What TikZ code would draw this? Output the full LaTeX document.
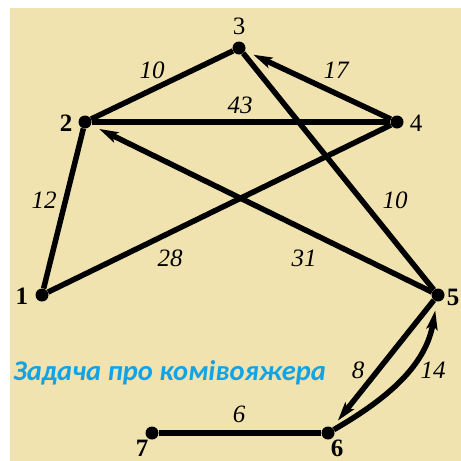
\documentclass[tikz,border=0pt]{standalone}
\usepackage{fontspec}
\setmainfont{Liberation Serif}
\newfontfamily\capfont{Carlito}
\usetikzlibrary{arrows.meta}
\definecolor{bg}{RGB}{240,227,176}
\definecolor{capblue}{RGB}{18,163,230}
\begin{document}
\begin{tikzpicture}[x=1pt,y=-1pt,
  dot/.style={circle,fill=black,inner sep=0pt,minimum size=13pt},
  edge/.style={line width=5.5pt},
  arr/.style={line width=5.5pt,-{Stealth[length=19pt,width=11pt,inset=4pt]},shorten >=9pt},
  wlab/.style={font=\fontsize{25}{25}\selectfont\itshape,inner sep=0pt},
  nlab/.style={font=\fontsize{25}{25}\selectfont,inner sep=0pt},
  blab/.style={font=\fontsize{25}{25}\selectfont\bfseries,inner sep=0pt}]
\useasboundingbox (0,0) rectangle (461,461);
\fill[bg] (10,8) rectangle (461,461);
\node[dot] (n1) at (42,295) {};
\node[dot] (n2) at (85,122) {};
\node[dot] (n3) at (239,48) {};
\node[dot] (n4) at (397,122) {};
\node[dot] (n5) at (438,295) {};
\node[dot] (n6) at (328,433) {};
\node[dot] (n7) at (152,433) {};
\node[nlab] (l3) at (239,26) {3};
\node[blab] (l2) at (66,123) {2};
\node[nlab] (l4) at (416,123) {4};
\node[blab] (l1) at (22,296) {1};
\node[blab] (l5) at (453,297) {5};
\node[blab] (l6) at (337,448) {6};
\node[blab] (l7) at (142,448) {7};
\draw[edge] (n2) -- (n3);
\draw[edge] (n2) -- (n4);
\draw[arr] (n4) -- (n3);
\draw[edge] (n2) -- (n1);
\draw[edge] (n1) -- (n4);
\draw[edge] (n3) -- (n5);
\draw[arr] (n5) -- (n2);
\draw[arr] (n5) -- (n6);
\draw[arr] (n6) to[out=30,in=-100] (n5);
\draw[edge] (n7) -- (n6);
\node[wlab] (w1) at (152,70) {10};
\node[wlab] (w2) at (240,105) {43};
\node[wlab] (w3) at (336,70) {17};
\node[wlab] (w4) at (44,200) {12};
\node[wlab] (w5) at (170,258) {28};
\node[wlab] (w6) at (304,258) {31};
\node[wlab] (w7) at (395,200) {10};
\node[wlab] (w8) at (358,370) {8};
\node[wlab] (w9) at (433,370) {14};
\node[wlab] (w10) at (239,414) {6};
\node[anchor=west,inner sep=0pt,text=capblue,font=\capfont\fontsize{28.5}{28.5}\selectfont\bfseries\itshape] (cap) at (13,373) {Задача про комівояжера};
\end{tikzpicture}
\end{document}
